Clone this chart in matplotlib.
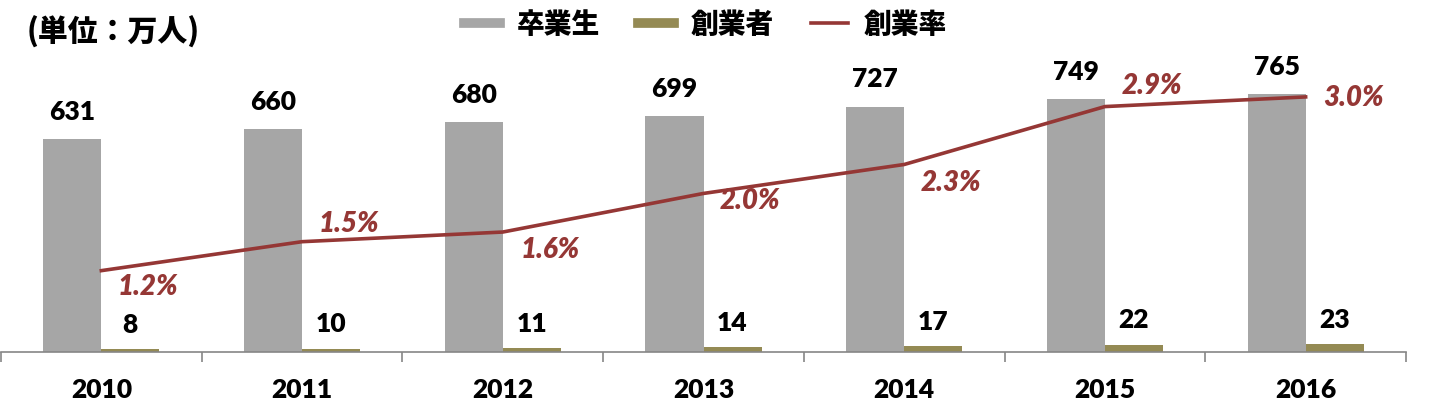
import matplotlib
matplotlib.use("Agg")
import matplotlib.pyplot as plt
from matplotlib.lines import Line2D

plt.rcParams['font.family'] = ['Noto Sans CJK JP', 'DejaVu Sans']

# data
years = ['2010', '2011', '2012', '2013', '2014', '2015', '2016']
graduates = [631, 660, 680, 699, 727, 749, 765]      # 卒業生 (万人)
founders = [8, 10, 11, 14, 17, 22, 23]               # 創業者 (万人)
rate = [1.2, 1.5, 1.6, 2.0, 2.3, 2.9, 3.0]           # 創業率 (%)

GRAY = '#a6a6a6'
OLIVE = '#948a54'
RED = '#953735'
AXIS = '#868686'
NUM_FONT = ['Lato', 'DejaVu Sans']
NUM_W = 'heavy'
NUM_SIZE = 19

fig = plt.figure(figsize=(14.29, 4.16), dpi=100)
ax = fig.add_axes([1 / 1429, 64 / 416, 1405 / 1429, 337.6 / 416])

x = list(range(len(years)))
w = 0.289
ax.bar([i - w / 2 for i in x], graduates, w, color=GRAY)
ax.bar([i + w / 2 for i in x], founders, w, color=OLIVE)
ax.set_xlim(-0.5, len(years) - 0.5)
ax.set_ylim(0, 1000)

for s in ['top', 'left', 'right']:
    ax.spines[s].set_visible(False)
ax.spines['bottom'].set_color(AXIS)
ax.spines['bottom'].set_linewidth(1.2)
ax.set_yticks([])
ax.set_xticks([i - 0.5 for i in range(len(years) + 1)])
ax.set_xticklabels([])
ax.tick_params(axis='x', direction='out', length=7.5, color=AXIS, width=1.2)

# year labels
for i, yr in enumerate(years):
    ax.annotate(yr, xy=(i, 0), xycoords=('data', 'axes fraction'),
                xytext=(0, -27.4), textcoords='offset points',
                ha='center', va='center', fontsize=NUM_SIZE, fontweight=NUM_W,
                family=NUM_FONT)

# bar labels
for i in x:
    ax.annotate(str(graduates[i]), xy=(i - w / 2, graduates[i]),
                xytext=(0, 19.5), textcoords='offset points',
                ha='center', va='center', fontsize=NUM_SIZE, fontweight=NUM_W,
                family=NUM_FONT)
    ax.annotate(str(founders[i]), xy=(i + w / 2, founders[i]),
                xytext=(0, 17.5), textcoords='offset points',
                ha='center', va='center', fontsize=NUM_SIZE, fontweight=NUM_W,
                family=NUM_FONT)

# rate line on secondary axis
ax2 = ax.twinx()
ax2.plot(x, rate, color=RED, lw=2.6)
ax2.set_ylim(0.357, 3.855)
ax2.axis('off')

# label offsets in pixels (dx, dy downwards)
offs = [(47, 16), (47, -18), (47, 18), (47, 8), (47, 19), (47, -21), (48, 1)]
for i in x:
    dx, dy = offs[i]
    ax2.annotate(f'{rate[i]:.1f}%', xy=(i, rate[i]),
                 xytext=(dx * 0.72, -dy * 0.72), textcoords='offset points',
                 ha='center', va='center', fontsize=20, fontweight=NUM_W,
                 style='italic', color=RED, family=NUM_FONT)

# unit
fig.text(27 / 1429, 1 - 32 / 416, '(単位：万人)', fontsize=21.5, fontweight='heavy',
         ha='left', va='center')

# legend
handles = [Line2D([], [], color=GRAY, lw=7),
           Line2D([], [], color=OLIVE, lw=7),
           Line2D([], [], color=RED, lw=2.6)]
fig.legend(handles, ['卒業生', '創業者', '創業率'], loc='center',
           bbox_to_anchor=(0.494, 0.94), ncol=3, frameon=False,
           prop={'size': 20, 'weight': 'heavy'}, handlelength=1.3,
           handletextpad=0.6, columnspacing=1.35)

fig.savefig('out.png', dpi=100)
